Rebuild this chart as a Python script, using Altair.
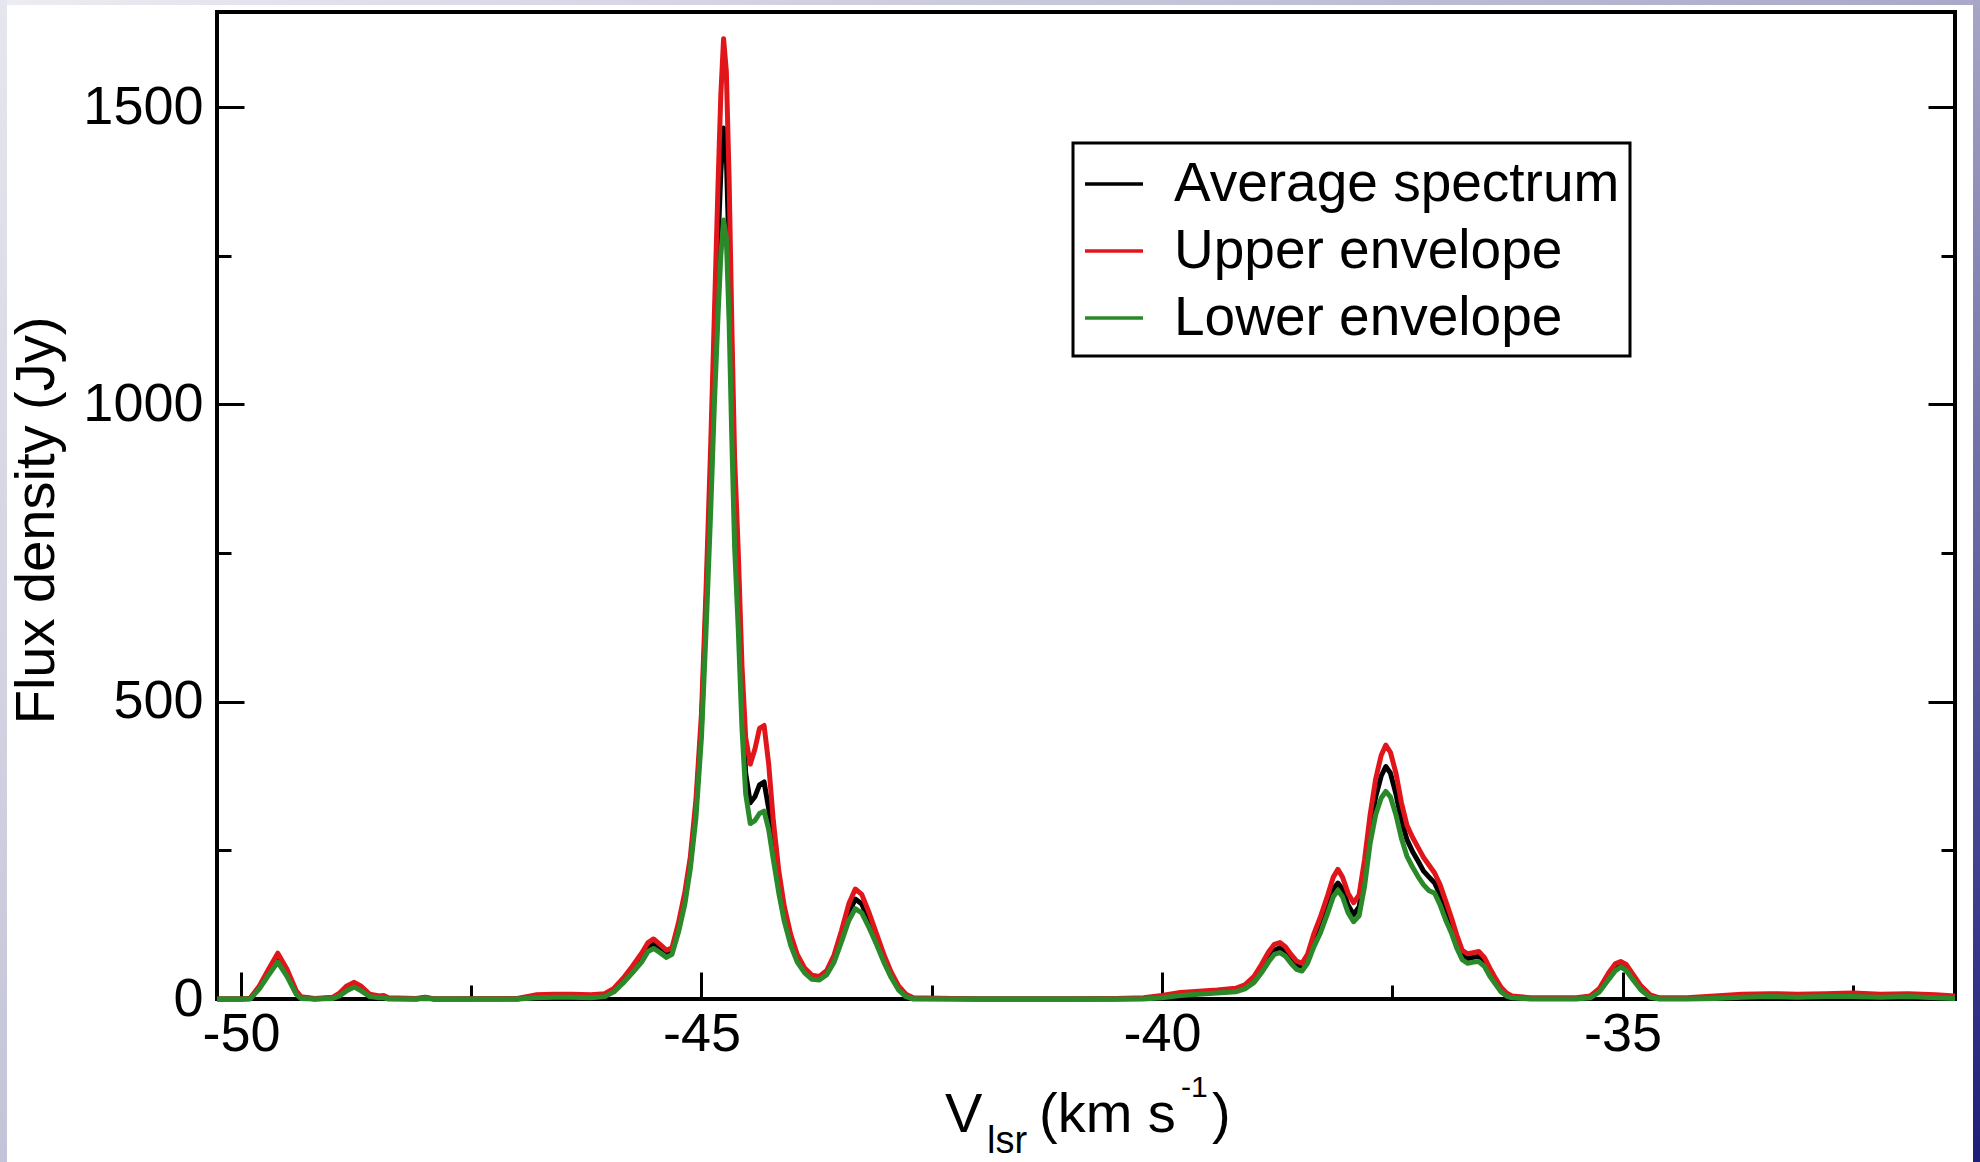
import altair as alt
import pandas as pd

# ---------------- data ----------------
velocity = [
    -50.26, -50.0, -49.9, -49.8, -49.7, -49.6, -49.5, -49.4, -49.35, -49.2,
    -49.0, -48.93, -48.85, -48.77, -48.7, -48.6, -48.5, -48.45, -48.4, -48.1,
    -48.0, -47.9, -47.0, -46.9, -46.8, -46.6, -46.4, -46.2, -46.05, -45.95,
    -45.85, -45.75, -45.65, -45.58, -45.52, -45.45, -45.38, -45.32, -45.25, -45.18,
    -45.12, -45.06, -45.0, -44.95, -44.9, -44.86, -44.82, -44.79, -44.76, -44.73,
    -44.7, -44.67, -44.64, -44.6, -44.56, -44.52, -44.47, -44.42, -44.37, -44.32,
    -44.27, -44.22, -44.16, -44.1, -44.03, -43.96, -43.88, -43.8, -43.72, -43.64,
    -43.56, -43.48, -43.4, -43.33, -43.26, -43.18, -43.1, -43.02, -42.94, -42.86,
    -42.78, -42.7, -42.0, -41.0, -40.5, -40.2, -40.0, -39.8, -39.6, -39.4,
    -39.2, -39.1, -39.0, -38.92, -38.84, -38.78, -38.72, -38.66, -38.6, -38.54,
    -38.48, -38.42, -38.35, -38.28, -38.2, -38.14, -38.09, -38.04, -37.98, -37.92,
    -37.86, -37.8, -37.74, -37.68, -37.62, -37.57, -37.52, -37.46, -37.4, -37.34,
    -37.28, -37.22, -37.16, -37.1, -37.04, -36.98, -36.92, -36.86, -36.8, -36.74,
    -36.68, -36.62, -36.56, -36.5, -36.44, -36.38, -36.32, -36.26, -36.2, -36.0,
    -35.5, -35.35, -35.25, -35.15, -35.08, -35.02, -34.96, -34.88, -34.8, -34.7,
    -34.6, -34.3, -34.0, -33.7, -33.4, -33.1, -32.8, -32.5, -32.2, -31.9,
    -31.6, -31.39,
]

average = [
    0, 0, 1, 20, 45, 70, 45, 12, 3, 0,
    2, 8, 18, 24, 18, 6, 3, 4, 1, 0,
    2, 0, 0, 2, 4, 5, 5, 4, 6, 15,
    30, 48, 68, 85, 92, 84, 76, 80, 120, 170,
    230, 320, 460, 660, 880, 1080, 1270, 1390, 1465, 1420,
    1250, 1020, 830, 680, 500, 380, 330, 340, 360, 365,
    320, 255, 190, 140, 98, 68, 48, 36, 35, 45,
    68, 105, 145, 168, 160, 132, 100, 68, 40, 18,
    6, 1, 0, 0, 0, 1, 4, 8, 10, 12,
    15, 20, 32, 50, 70, 82, 86, 80, 68, 58,
    55, 68, 100, 125, 160, 185, 195, 185, 158, 142,
    155, 210, 285, 340, 375, 391, 380, 345, 300, 268,
    248, 232, 215, 205, 195, 175, 148, 122, 95, 74,
    68, 70, 72, 62, 45, 30, 16, 8, 3, 1,
    1, 3, 15, 38, 52, 58, 52, 35, 18, 5,
    1, 1, 3, 5, 6, 5, 6, 7, 5, 6,
    4, 3,
]

upper = [
    0, 0, 1, 22, 50, 77, 50, 14, 4, 1,
    3, 10, 22, 28, 22, 8, 5, 6, 2, 1,
    3, 0, 1, 4, 7, 8, 8, 7, 9, 18,
    35, 55, 77, 95, 101, 92, 82, 86, 128, 180,
    240, 335, 480, 690, 930, 1150, 1370, 1520, 1615, 1560,
    1380, 1130, 910, 750, 560, 440, 395, 420, 455, 460,
    395, 300, 215, 155, 108, 75, 52, 40, 38, 48,
    74, 115, 160, 185, 176, 145, 110, 75, 45, 22,
    8, 2, 0, 0, 1, 2, 6, 11, 13, 15,
    18, 24, 38, 58, 80, 92, 95, 88, 75, 64,
    60, 75, 110, 138, 175, 205, 218, 205, 178, 162,
    175, 235, 310, 370, 410, 427, 415, 380, 330, 292,
    272, 255, 238, 225, 212, 192, 165, 138, 108, 82,
    76, 78, 80, 70, 52, 35, 20, 10, 5, 2,
    2, 5, 18, 44, 59, 63, 58, 40, 22, 7,
    2, 2, 5, 8, 9, 8, 9, 10, 8, 9,
    7, 5,
]

lower = [
    0, 0, 0, 17, 40, 62, 38, 8, 1, 0,
    1, 5, 14, 20, 14, 4, 2, 2, 0, 0,
    1, 0, 0, 1, 2, 3, 3, 2, 4, 12,
    27, 44, 62, 80, 85, 78, 70, 75, 112, 160,
    220, 305, 440, 620, 820, 1000, 1150, 1250, 1310, 1280,
    1140, 940, 760, 620, 455, 345, 295, 300, 312, 316,
    285, 235, 178, 130, 90, 62, 44, 33, 32, 41,
    62, 96, 132, 152, 145, 120, 92, 62, 36, 15,
    4, 0, 0, 0, 0, 0, 2, 6, 8, 10,
    12, 17, 28, 44, 63, 75, 78, 72, 60, 50,
    47, 60, 88, 111, 145, 172, 183, 172, 145, 130,
    140, 190, 262, 310, 338, 349, 340, 310, 270, 240,
    222, 206, 192, 182, 178, 158, 133, 112, 86, 66,
    60, 62, 63, 55, 38, 25, 12, 5, 2, 0,
    0, 2, 12, 33, 47, 54, 48, 31, 15, 3,
    0, 0, 1, 3, 4, 3, 4, 4, 3, 4,
    2, 1,
]

series_names = ["Average spectrum", "Upper envelope", "Lower envelope"]
series_colors = ["#000000", "#e0161b", "#2a8a2a"]

x_major = [-50, -45, -40, -35]
x_minor = [-47.5, -42.5, -37.5, -32.5]
y_major = [0, 500, 1000, 1500]
y_minor = [250, 750, 1250]

assert len(velocity) == len(average) == len(upper) == len(lower)

rows = []
for name, vals in zip(series_names, [average, upper, lower]):
    for v, f in zip(velocity, vals):
        rows.append({"v": v, "flux": f, "series": name})
df = pd.DataFrame(rows)

# ---------------- layout ----------------
W, H = 1738, 987
FONT = "Liberation Sans"
MAJ, MIN = 27, 14
PLAIN = "'' + datum.value"   # plain numbers, ASCII hyphen minus, no thousands comma

xscale = alt.Scale(domain=[-50.26, -31.39], nice=False, zero=False)
yscale = alt.Scale(domain=[0, 1660], nice=False, zero=False)


def tick_axis(orient, values, size, **extra):
    opts = dict(orient=orient, values=values, tickSize=size, offset=-size,
                domain=False, grid=False, ticks=True, tickWidth=3,
                tickColor="black", tickCap="butt")
    opts.update(extra)
    return alt.Axis(**opts)


x_major_axis = tick_axis("bottom", x_major, MAJ, labels=True, labelFont=FONT,
                         labelFontSize=54, labelColor="black", labelPadding=8,
                         labelFlush=False, labelOverlap=False, labelExpr=PLAIN,
                         title=None)
y_major_axis = tick_axis("left", y_major, MAJ, labels=True, labelFont=FONT,
                         labelFontSize=54, labelColor="black", labelPadding=14,
                         labelFlush=False, labelOverlap=False, labelExpr=PLAIN,
                         title="Flux density (Jy)", titleFont=FONT,
                         titleFontSize=56, titleFontWeight="normal",
                         titleColor="black", titleAngle=270, titleX=-208,
                         titleY=508, titleAlign="center", titleBaseline="middle")

lines = alt.Chart(df).mark_line(strokeWidth=5, strokeJoin="round").encode(
    x=alt.X("v:Q", scale=xscale, axis=x_major_axis),
    y=alt.Y("flux:Q", scale=yscale, axis=y_major_axis),
    color=alt.Color(
        "series:N",
        scale=alt.Scale(domain=series_names, range=series_colors),
        legend=alt.Legend(title=None, orient="none", legendX=856, legendY=131,
                          symbolType="stroke", symbolSize=3364,
                          symbolStrokeWidth=3.5, labelFont=FONT,
                          labelFontSize=55, labelColor="black", labelOffset=29,
                          labelLimit=2000, padding=10, rowPadding=8,
                          strokeColor="black", fillColor="white"),
    ),
)

minor_left_bottom = alt.Chart(df).mark_line(strokeOpacity=0).encode(
    x=alt.X("v:Q", scale=xscale,
            axis=tick_axis("bottom", x_minor, MIN, labels=False, title=None)),
    y=alt.Y("flux:Q", scale=yscale,
            axis=tick_axis("left", y_minor, MIN, labels=False, title=None)),
)

right_major = alt.Chart(df).mark_line(strokeOpacity=0).encode(
    x=alt.X("v:Q", scale=xscale, axis=None),
    y=alt.Y("flux:Q", scale=yscale,
            axis=tick_axis("right", y_major, MAJ, labels=False, title=None)),
)

right_minor = alt.Chart(df).mark_line(strokeOpacity=0).encode(
    x=alt.X("v:Q", scale=xscale, axis=None),
    y=alt.Y("flux:Q", scale=yscale,
            axis=tick_axis("right", y_minor, MIN, labels=False, title=None)),
)

one = pd.DataFrame({"k": [0]})


def label(text, x, y, size):
    return alt.Chart(one).mark_text(
        text=text, font=FONT, fontSize=size, align="left",
        baseline="alphabetic", color="black",
    ).encode(x=alt.value(x), y=alt.value(y))


x_title = [
    label("V", 728, 1120, 56),
    label("lsr", 770, 1141, 38),
    label("(km s", 822, 1120, 56),
    label("-1", 964, 1085, 30),
    label(")", 995, 1120, 56),
]


def strip(x1, x2, y1, y2, c1, c2, vertical=True):
    grad = alt.Gradient(
        gradient="linear",
        stops=[alt.GradientStop(offset=0, color=c1),
               alt.GradientStop(offset=1, color=c2)],
        x1=0, x2=0 if vertical else 1, y1=0, y2=1 if vertical else 0,
    )
    return alt.Chart(one).mark_rect(fill=grad, strokeWidth=0).encode(
        x=alt.value(x1), x2=alt.value(x2), y=alt.value(y1), y2=alt.value(y2))


frame_decor = [
    strip(-217, 1763, -12, -7, "#ececf2", "#a8a8c8", vertical=False),
    strip(-217, -210, -12, 1150, "#e6e6ee", "#c4c4d8"),
    strip(1756, 1763, -12, 1150, "#a6a6c6", "#1e1e7a"),
]

chart = alt.layer(
    *frame_decor, lines, minor_left_bottom, right_major, right_minor, *x_title
).resolve_axis(
    x="independent", y="independent"
).properties(
    width=W, height=H,
    padding={"left": 217, "top": 12, "right": 25, "bottom": 163},
    autosize=alt.AutoSizeParams(type="none"),
).configure(
    background="white"
).configure_view(
    stroke="black", strokeWidth=4
).configure_legend(
    strokeWidth=3
)

chart.save("out.html", embed_options={"renderer": "svg", "actions": False})
